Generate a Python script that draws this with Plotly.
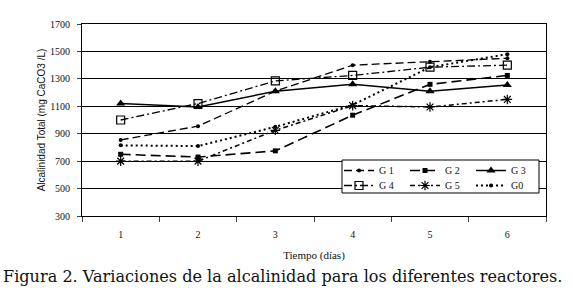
import plotly.graph_objects as go

days = ["1", "2", "3", "4", "5", "6"]
g1 = [855, 955, 1210, 1400, 1425, 1450]
g2 = [750, 730, 775, 1035, 1260, 1325]
g3 = [1120, 1095, 1210, 1260, 1210, 1255]
g4 = [1000, 1120, 1285, 1325, 1385, 1400]
g5 = [700, 700, 925, 1105, 1095, 1150]
g0 = [815, 810, 950, 1110, 1385, 1480]
yticks = [300, 500, 700, 900, 1100, 1300, 1500, 1700]

series = [
    ("G 1", g1, "legend", dict(dash="8px,4px", width=1.3), dict(symbol="circle", size=4)),
    ("G 2", g2, "legend", dict(dash="10px,5px", width=1.6), dict(symbol="square", size=5)),
    ("G 3", g3, "legend", dict(dash="solid", width=1.5), dict(symbol="triangle-up", size=8)),
    ("G 4", g4, "legend2", dict(dash="8px,3px,2px,3px", width=1.3), dict(symbol="square-open", size=8, line=dict(width=1.2))),
    ("G 5", g5, "legend2", dict(dash="5px,3px,2px,3px", width=1.5), dict(symbol="asterisk-open", size=8, line=dict(width=1.2, color="black"))),
    ("G0", g0, "legend2", dict(dash="2px,3px", width=2), dict(symbol="circle", size=4)),
]

fig = go.Figure()
for name, vals, leg, ln, mk in series:
    ln = dict(color="black", **ln)
    mk = dict(color="black", **mk)
    fig.add_trace(go.Scatter(x=days, y=vals, name=name, mode="lines+markers",
                             line=ln, marker=mk, legend=leg))

serif = "Liberation Serif, Times New Roman, serif"
leg_common = dict(orientation="h", xanchor="left", yanchor="top", x=(339 - 82) / 464,
                  bgcolor="rgba(0,0,0,0)", borderwidth=0,
                  entrywidth=21, entrywidthmode="pixels",
                  font=dict(family=serif, size=10, color="#111"))
fig.update_layout(
    width=573, height=294,
    margin=dict(l=82, r=27, t=24, b=78),
    paper_bgcolor="white", plot_bgcolor="white",
    font=dict(family=serif, size=10, color="#111"),
    showlegend=True,
    legend=dict(y=(216 - 156) / 192, **leg_common),
    legend2=dict(y=(216 - 171) / 192, **leg_common),
    xaxis=dict(type="category", range=[-0.5, 5.5], tickson="boundaries", ticks="outside", ticklen=5,
               showline=True, linecolor="black", linewidth=1, mirror=True,
               showgrid=False, ticklabelstandoff=9, automargin=False,
               title=dict(text="Tiempo (días)", font=dict(family=serif, size=11), standoff=12)),
    yaxis=dict(range=[300, 1700], tickvals=yticks, ticks="outside", ticklen=4,
               showline=True, linecolor="black", linewidth=1, mirror=True,
               showgrid=True, gridcolor="black", gridwidth=1, zeroline=False,
               ticklabelstandoff=5, automargin=False,
               title=dict(text="Alcalinidad Total (mg CaCO3 /L)",
                          font=dict(family="Liberation Sans, Arial, sans-serif", size=10), standoff=2)),
)
# legend frame
fig.add_shape(type="rect", xref="paper", yref="paper",
              x0=(342 - 82) / 464, x1=(539 - 82) / 464,
              y0=(216 - 193) / 192, y1=(216 - 160) / 192,
              line=dict(color="black", width=1), fillcolor="white", layer="above")
fig.add_annotation(text="Figura 2. Variaciones de la alcalinidad para los diferentes reactores.",
                   xref="paper", yref="paper", x=-81/464, y=-(276-216)/192,
                   xanchor="left", yanchor="middle", showarrow=False,
                   font=dict(family="DejaVu Serif, serif", size=16.1, color="#111"))

fig.write_html("out.html", config={"displayModeBar": False},
               post_script="document.body.style.margin='0';document.body.style.padding='0';")
